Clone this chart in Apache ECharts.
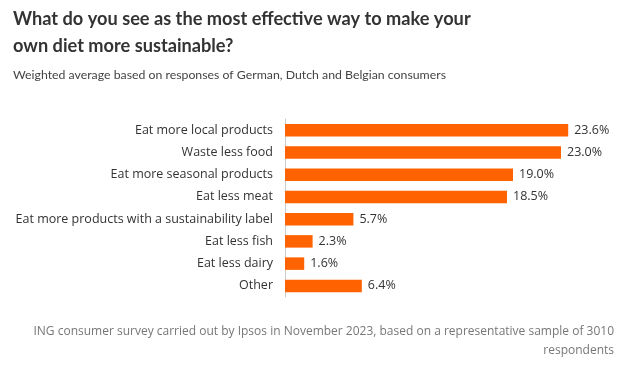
<!DOCTYPE html>
<html><head><meta charset="utf-8">
<script src="https://cdn.jsdelivr.net/npm/echarts@6/dist/echarts.min.js"></script>
<style>html,body{margin:0;padding:0;background:#fff}#c{width:636px;height:371px}</style>
</head><body><div id="c"></div>
<script>
const categories = ["Eat more local products","Waste less food","Eat more seasonal products","Eat less meat","Eat more products with a sustainability label","Eat less fish","Eat less dairy","Other"];
const values = [23.6, 23.0, 19.0, 18.5, 5.7, 2.3, 1.6, 6.4];
const titleText = "What do you see as the most effective way to make your\nown diet more sustainable?";
const subtitleText = "Weighted average based on responses of German, Dutch and Belgian consumers";
const sourceLines = ["ING consumer survey carried out by Ipsos in November 2023, based on a representative sample of 3010", "respondents"];

const FONT = "'Open Sans', sans-serif";
const HEAD = "Lato, sans-serif";
const chart = echarts.init(document.getElementById('c'), null, {renderer:'canvas'});
chart.setOption({
  animation:false,
  backgroundColor:'#fff',
  title:[
    {text:titleText, left:8, top:1, textStyle:{fontFamily:HEAD, fontSize:18.2, fontWeight:'bold', color:'#333', lineHeight:27}},
    {text:subtitleText, left:8, top:64, textStyle:{fontFamily:HEAD, fontSize:12.3, fontWeight:'normal', color:'#444'}}
  ],
  graphic:sourceLines.map((t,i)=>({type:'text', right:22, top:326+i*19, style:{text:t, fill:'#777', font:"12px 'Open Sans', sans-serif"}})),
  grid:{left:285, right:51, top:119, bottom:74, containLabel:false},
  xAxis:{type:'value', min:0, max:25, show:false},
  yAxis:{type:'category', data:categories, inverse:true,
    axisLine:{show:true, lineStyle:{color:'#ccc', width:1}}, axisTick:{show:false},
    axisLabel:{fontFamily:FONT, fontSize:12.5, color:'#333', margin:12}},
  series:[{type:'bar', data:values, barWidth:12.5, itemStyle:{color:'#FF6200'},
    label:{show:true, position:'right', distance:6, fontFamily:FONT, fontSize:12.5, color:'#333', formatter:p=>p.value.toFixed(1)+'%'}}]
});
</script></body></html>
